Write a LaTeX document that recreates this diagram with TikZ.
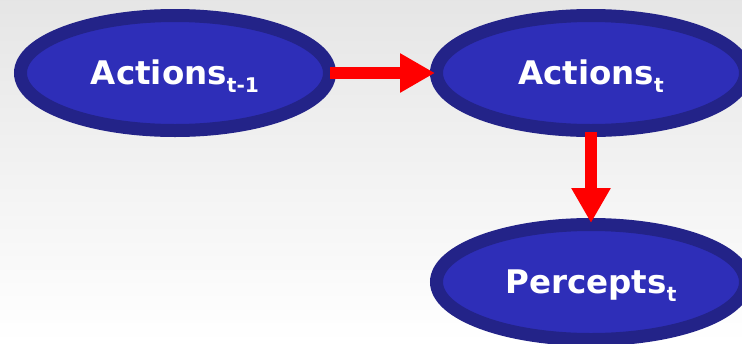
\documentclass[tikz,border=0pt]{standalone}
\usepackage{fontspec}
\setmainfont{DejaVu Sans}
\usepackage{tikz}
\usetikzlibrary{arrows.meta}
\usetikzlibrary{shapes.geometric, positioning}
\definecolor{oval_fill}{RGB}{46,46,184}
\definecolor{oval_rim}{RGB}{35,35,136}
\newcommand{\lowidx}[1]{\raisebox{-4.5pt}{\fontsize{11.5}{13}\selectfont #1}}

\begin{document}
\begin{tikzpicture}[>={Triangle[length=0.70cm, width=0.74cm]}, every node/.style={ellipse, draw=oval_rim, line width=0.26cm, fill=oval_fill, minimum width=6.18cm, minimum height=2.30cm, inner sep=0pt, text height=13.4pt, text depth=0pt, text=white, font=\fontsize{18.5}{22}\selectfont\bfseries}]
      \clip (0,0) rectangle (14.84,6.86);
      \shade[top color=black!10, bottom color=white] (0,0) rectangle (14.84,6.86);
      \node (Aprev) at (3.50,5.40) {Actions\lowidx{t-1}};
      \node (A) at (11.82,5.40) {Actions\lowidx{t}};
      \node (P) at (11.82,1.22) {Percepts\lowidx{t}};
      \draw[->, red, line width=0.24cm, shorten <=-0.12cm, shorten >=-0.10cm] (Aprev.east) -- (A.west);
      \draw[->, red, line width=0.24cm, shorten <=-0.10cm, shorten >=-0.10cm] (A.south) -- (P.north);
      % chain runs forward in time only
    \end{tikzpicture}
\end{document}
